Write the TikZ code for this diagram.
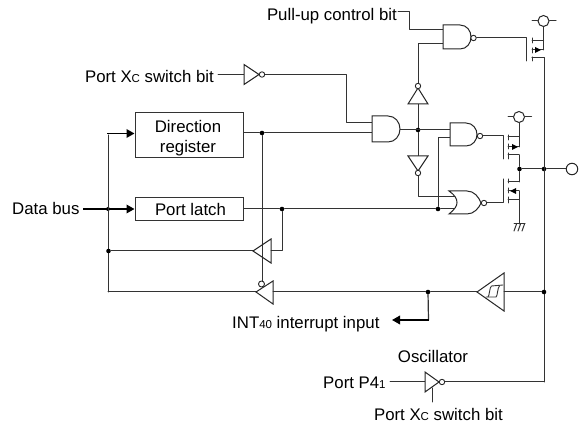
\documentclass[tikz,border=0pt]{standalone}
\usepackage{fontspec}
\setmainfont{Liberation Sans}
\usetikzlibrary{arrows.meta}
\newcommand{\smalltxt}[1]{{\fontsize{11.5}{12}\selectfont #1}}
\tikzset{
  wire/.style={line width=1pt,draw=black!80,line cap=round,line join=round},
  gate/.style={line width=1pt,draw=black!85,fill=white,line join=miter},
  bus/.style={line width=1.8pt,draw=black,-{Triangle[length=8pt,width=8.5pt]}},
  junction/.style={circle,fill=black,inner sep=0pt,minimum size=4.6pt},
  bubble/.style={circle,draw=black!85,line width=0.9pt,fill=white,inner sep=0pt,minimum size=5.4pt},
  rail/.style={circle,draw=black!85,line width=1pt,fill=white,inner sep=0pt,minimum size=11pt},
  regbox/.style={draw=black!80,line width=1pt,fill=white,inner sep=0pt,minimum width=108pt,align=center},
  lbl/.style={inner sep=0pt,font=\fontsize{16.8}{19}\selectfont},
}
\begin{document}
\begin{tikzpicture}[x=1pt,y=-1pt]
\useasboundingbox (0,0) rectangle (581,427);
% coordinates
\coordinate (pu) at (398,12);
\coordinate (na1) at (443,30);
\coordinate (na2) at (443,44);
\coordinate (g1) at (526,38);
\coordinate (g1b) at (526,61);
\coordinate (xsw) at (218,74.5);
\coordinate (xinv) at (244,74.5);
\coordinate (andin1) at (372,123);
\coordinate (andin2) at (372,133);
\coordinate (andout) at (400,130);
\coordinate (n2in1) at (450,130);
\coordinate (n2in2) at (450,138);
\coordinate (g2) at (503,136);
\coordinate (g2b) at (503,159);
\coordinate (g3) at (503,179);
\coordinate (g3b) at (503,203);
\coordinate (norin1) at (455,197);
\coordinate (norin2) at (455,209);
\coordinate (mainb) at (544,382);
\coordinate (maint) at (532,58);
% wires under gates
\draw[wire] (pu) -- (409,12) -- (409,30) -- (na1);
\draw[wire] (na2) -- (418,44) -- (418,130);
\node[junction] (j1) at (418,130) {};
\draw[wire] (andout) -- (n2in1);
\draw[wire] (j1) -- (418,197) -- (norin1);
\draw[wire] (xsw) -- (xinv);
\draw[wire] (xinv) -- (346,74.5) -- (346,123) -- (andin1);
% registers
\node[regbox,minimum height=45pt] (dir) at (189,135.5) {};
\node[regbox,minimum height=23pt] (latch) at (189,209.5) {};
\node[lbl,anchor=base] (dirt1) at (188,133) {Direction};
\node[lbl,anchor=base] (dirt2) at (188,153) {register};
\node[lbl,anchor=base] (latcht) at (190.5,215.5) {Port latch};
\node[junction] (j2) at (262,133) {};
\node[junction] (j3) at (282,209) {};
\node[junction] (j4) at (438,209) {};
\draw[wire] (dir.east |- j2) -- (j2) -- (andin2);
\draw[wire] (latch.east |- j3) -- (j3) -- (j4) -- (norin2);
\draw[wire] (j4) -- (438,138) -- (n2in2);
% AND
\draw[gate] (372,116) -- (388,116) .. controls (395,116) and (400,122) .. (400,129) .. controls (400,136) and (395,142) .. (388,142) -- (372,142) -- cycle;
% NAND top
\draw[gate] (443,25) -- (460,25) .. controls (467,25) and (471,31) .. (471,37) .. controls (471,43) and (467,49) .. (460,49) -- (443,49) -- cycle;
\node[bubble] (b1) at (473.5,38) {};
\draw[wire] (b1) -- (g1) -- (g1b);
% inverter up
\draw[gate] (418,88) -- (428,104) -- (408,104) -- cycle;
\node[bubble] (b2) at (418,86) {};
% inverter down
\draw[gate] (418,171) -- (428,156) -- (408,156) -- cycle;
\node[bubble] (b3) at (418,173) {};
% NAND 2
\draw[gate] (450,123) -- (466,123) .. controls (473,123) and (477,129) .. (477,134.5) .. controls (477,140) and (473,146) .. (466,146) -- (450,146) -- cycle;
\node[bubble] (b4) at (480,136) {};
\draw[wire] (b4) -- (g2) -- (g2b);
% NOR
\draw[gate] (449,191) -- (467,191) .. controls (474,191) and (479,197) .. (481,203) .. controls (479,208) and (474,214) .. (467,214) -- (449,214) .. controls (455,209) and (457,206) .. (457,202.5) .. controls (457,199) and (455,195) .. (449,191) -- cycle;
\node[bubble] (b5) at (484,203) {};
\draw[wire] (b5) -- (g3b) -- (g3);
% Xc inverter
\draw[gate] (244,64.5) -- (259,74.5) -- (244,84.5) -- cycle;
\node[bubble] (b6) at (262,74.5) {};
% FET 1
\draw[wire] (532,38) -- (532,43) (532,48) -- (532,53) (532,57) -- (532,61);
\draw[wire] (532,41) -- (543.5,41);
\draw[wire] (532,50) -- (543.5,50);
\draw[wire] (532,58) -- (544,58);
\node[rail] (p1) at (543.5,21) {};
\draw[wire] (532,21) -- (p1) -- (556,21);
\draw[wire] (p1) -- (543.5,50);
\fill[black] (541,50) -- ++(-6,-3) -- ++(0,6) -- cycle;
% FET 2
\draw[wire] (508,135) -- (508,140) (508,144) -- (508,149) (508,153) -- (508,159);
\draw[wire] (508,137) -- (519,137);
\draw[wire] (508,147) -- (519,147);
\draw[wire] (508,155) -- (519,155);
\node[rail] (p2) at (519,117) {};
\draw[wire] (508,117) -- (p2) -- (531.5,117);
\draw[wire] (p2) -- (519,147);
\fill[black] (518,147) -- ++(-6,-3) -- ++(0,6) -- cycle;
% FET 3
\draw[wire] (508,179) -- (508,183) (508,188) -- (508,193) (508,197) -- (508,203);
\draw[wire] (508,182) -- (519,182);
\draw[wire] (508,191) -- (519,191);
\draw[wire] (508,200) -- (519,200);
\fill[black] (510,191) -- ++(6,-3) -- ++(0,6) -- cycle;
\coordinate (gnd) at (519,224);
\draw[wire] (519,191) -- (gnd);
\draw[wire] (514,224) -- (525,224);
\draw[wire] (516.5,224) -- (514,231) (520.5,224) -- (518,231) (524.5,224) -- (522,231);
% output
\node[junction] (j5) at (519.5,169) {};
\node[junction] (j6) at (544,169) {};
\node[rail,minimum size=11.5pt] (out) at (572,169) {};
\draw[wire] (519.5,155) -- (j5) -- (519.5,182);
\draw[wire] (j5) -- (j6) -- (out);
\draw[wire] (maint) -- (544,58) -- (mainb);
% data bus
\node[lbl,anchor=base west] (db) at (12,215) {Data bus};
\coordinate (dbs) at (83,209);
\draw[bus] (dbs) -- (latch.west |- dbs);
\node[junction,minimum size=4pt] (j7) at (108,209) {};
\draw[wire] (108,135) -- (108,292);
\draw[bus] (107.2,133.5) -- (dir.west |- 0,133.5);
\node[junction] (j8) at (108.5,251) {};
% tristates
\coordinate (t1tip) at (253,251);
\coordinate (t2tip) at (256,292);
\draw[wire] (j8) -- (t1tip);
\draw[wire] (108,292) -- (t2tip);
\draw[wire] (j3) -- (282,251) -- (271,251);
\draw[wire] (j2) -- (262,281);
\draw[gate,fill=none] (253,251) -- (271,239) -- (271,263) -- cycle;
\draw[gate] (256,292) -- (273,281) -- (273,304) -- cycle;
\node[bubble,minimum size=6pt] (b7) at (261.5,284) {};
% schmitt
\draw[gate] (477,292) -- (504,273) -- (504,311) -- cycle;
\draw[wire,line width=0.9pt,line join=round] (486,297) -- (496,297) .. controls (497.5,297) and (497.5,287) .. (499.5,286);
\draw[wire,line width=0.9pt,line join=round] (488,297) .. controls (489.5,296) and (489.5,287) .. (491.5,286) -- (503,285);
\node[junction] (j9) at (428,292) {};
\node[junction] (j10) at (544,292) {};
\draw[wire] (273,292) -- (j9) -- (477,292);
\draw[wire] (504,292) -- (j10);
\coordinate (intarrow) at (392,320);
\draw[wire,line width=1.2pt] (j9) -- (428.5,320);
\draw[bus] (429,320) -- (intarrow);
\node[lbl,anchor=base west] (intl) at (232,329) {INT\smalltxt{40} interrupt input};
% bottom inverter
\node[lbl,anchor=base] (osc) at (433,363) {Oscillator};
\node[lbl,anchor=base west] (p41) at (323,389) {Port P4\smalltxt{1}};
\draw[wire] (390,382) -- (425,382);
\draw[gate] (425,372) -- (439,382) -- (425,392) -- cycle;
\node[bubble] (b8) at (442,382) {};
\draw[wire] (b8) -- (mainb);
\draw[wire] (432,388) -- (432,402);
\node[lbl,anchor=base east] (xlo) at (503,420.5) {Port X\smalltxt{C} switch bit};
% top labels
\node[lbl,anchor=base east] (pul) at (397,21) {Pull-up control bit};
\node[lbl,anchor=base east] (xsl) at (214,83) {Port X\smalltxt{C} switch bit};
\end{tikzpicture}
\end{document}
